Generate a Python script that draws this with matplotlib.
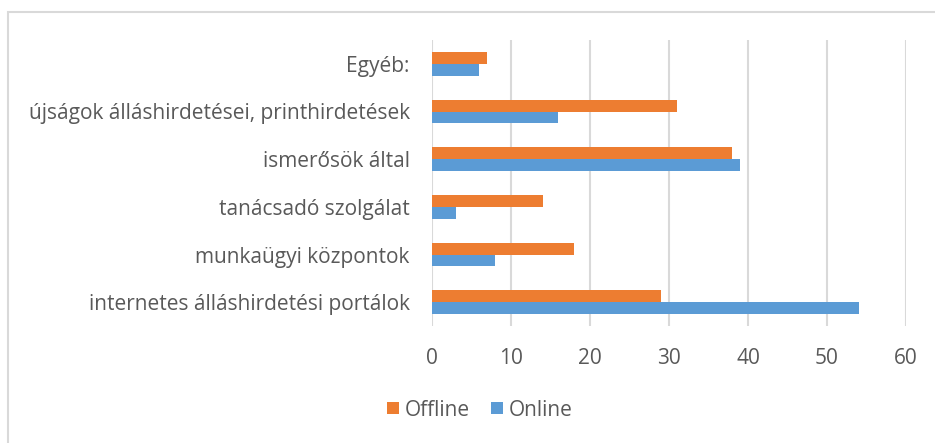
import matplotlib.pyplot as plt
from matplotlib.patches import Rectangle
import numpy as np

plt.rcParams['font.family'] = ['Open Sans', 'DejaVu Sans']

# Adatok (alulról felfelé)
categories = ['internetes álláshirdetési portálok', 'munkaügyi központok',
              'tanácsadó szolgálat', 'ismerősök által',
              'újságok álláshirdetései, printhirdetések', 'Egyéb:']
offline = [29, 18, 14, 38, 31, 7]
online = [54, 8, 3, 39, 16, 6]
x_ticks = [0, 10, 20, 30, 40, 50, 60]

c_off = '#ED7D31'
c_on = '#5B9BD5'
grid_c = '#D9D9D9'
text_c = '#595959'

fig = plt.figure(figsize=(9.35, 4.43), dpi=100)
ax = fig.add_axes([432 / 935, 1 - 326 / 443, (906 - 432) / 935, (326 - 40) / 443])

y = np.arange(len(categories))
h = 0.25
ax.barh(y + h / 2, offline, height=h, color=c_off, label='Offline', zorder=3)
ax.barh(y - h / 2, online, height=h, color=c_on, label='Online', zorder=3)

ax.set_xlim(0, 60)
ax.set_ylim(-0.5, len(categories) - 0.5)
ax.set_xticks(x_ticks)
ax.set_yticks(y)
ax.set_yticklabels(categories)
ax.xaxis.grid(True, color=grid_c, linewidth=1.5, zorder=0)
ax.tick_params(length=0, labelsize=15, colors=text_c)
ax.tick_params(axis='x', pad=16)
ax.tick_params(axis='y', pad=16)
for s in ax.spines.values():
    s.set_visible(False)

# Jelmagyarázat
fig.legend(loc='center', bbox_to_anchor=(480 / 935, 1 - 410 / 443), ncol=2,
           frameon=False, fontsize=15, labelcolor=text_c, handlelength=0.55,
           handleheight=0.55, handletextpad=0.3, columnspacing=1.0)

# Keret
fig.patches.append(Rectangle((8 / 935, -0.1), 1.1, 1 - 12 / 443 + 0.1,
                             transform=fig.transFigure, fill=False,
                             edgecolor=grid_c, linewidth=1.5))

fig.savefig('out.png', dpi=100, facecolor='white')
